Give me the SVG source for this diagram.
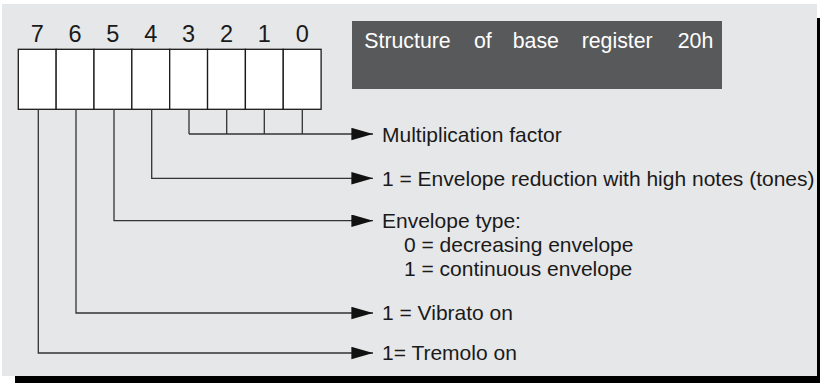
<svg xmlns="http://www.w3.org/2000/svg" width="820" height="383" viewBox="0 0 820 383">
<style>
.t{font-family:"Liberation Sans",Arial,sans-serif;font-size:21px;fill:#1a1a1a}
.d{font-family:"Liberation Sans",Arial,sans-serif;font-size:23.5px;fill:#1a1a1a;text-anchor:middle}
.w{font-family:"Liberation Sans",Arial,sans-serif;font-size:21.3px;fill:#ffffff}
.cell{fill:#ffffff;stroke:#1a1a1a;stroke-width:1.3}
.c{fill:none;stroke:#333333;stroke-width:1.3}
</style>
<defs>
<marker id="arr" markerUnits="userSpaceOnUse" markerWidth="22" markerHeight="13" refX="21.6" refY="6.2" orient="auto">
<path d="M0,0 L21.6,6.2 L0,12.4 z" fill="#111111"/>
</marker>
</defs>
<rect x="15" y="18" width="805" height="365" fill="#000000"/>
<rect x="2" y="4" width="815" height="372" fill="#e6e7e8"/>
<g id="title">
<rect x="352" y="21" width="370" height="68" fill="#58595b"/>
<text class="w" x="364.3" y="48">Structure</text>
<text class="w" x="474" y="48">of</text>
<text class="w" x="512.7" y="48">base</text>
<text class="w" x="581.7" y="48">register</text>
<text class="w" x="677.7" y="48">20h</text>
</g>
<g id="register">
<rect class="cell" x="18.3" y="49.3" width="37.85" height="60"/>
<rect class="cell" x="56.15" y="49.3" width="37.85" height="60"/>
<rect class="cell" x="94" y="49.3" width="37.85" height="60"/>
<rect class="cell" x="131.85" y="49.3" width="37.85" height="60"/>
<rect class="cell" x="169.7" y="49.3" width="37.85" height="60"/>
<rect class="cell" x="207.55" y="49.3" width="37.85" height="60"/>
<rect class="cell" x="245.4" y="49.3" width="37.85" height="60"/>
<rect class="cell" x="283.25" y="49.3" width="37.85" height="60"/>
<text class="d" x="37.2" y="42">7</text>
<text class="d" x="75.1" y="42">6</text>
<text class="d" x="112.9" y="42">5</text>
<text class="d" x="150.8" y="42">4</text>
<text class="d" x="188.6" y="42">3</text>
<text class="d" x="226.5" y="42">2</text>
<text class="d" x="264.3" y="42">1</text>
<text class="d" x="302.2" y="42">0</text>
</g>
<g id="connectors">
<path class="c" d="M189,109.3 V134 M226.7,109.3 V134 M264.3,109.3 V134 M302.3,109.3 V134"/>
<path class="c" d="M189,134 H373" marker-end="url(#arr)"/>
<path class="c" d="M151.7,109.3 V178.3 H373" marker-end="url(#arr)"/>
<path class="c" d="M114,109.3 V220.7 H373" marker-end="url(#arr)"/>
<path class="c" d="M76,109.3 V313 H373" marker-end="url(#arr)"/>
<path class="c" d="M38.3,109.3 V353 H373" marker-end="url(#arr)"/>
</g>
<g id="label-mult"><text class="t" x="382" y="141.5">Multiplication factor</text></g>
<g id="label-envred"><text class="t" x="382" y="185.5">1 = Envelope reduction with high notes (tones)</text></g>
<g id="label-envtype">
<text class="t" x="382" y="227.7">Envelope type:</text>
<text class="t" x="404" y="252">0 = decreasing envelope</text>
<text class="t" x="404" y="276">1 = continuous envelope</text>
</g>
<g id="label-vibrato"><text class="t" x="382" y="320">1 = Vibrato on</text></g>
<g id="label-tremolo"><text class="t" x="382" y="360">1= Tremolo on</text></g>
</svg>
